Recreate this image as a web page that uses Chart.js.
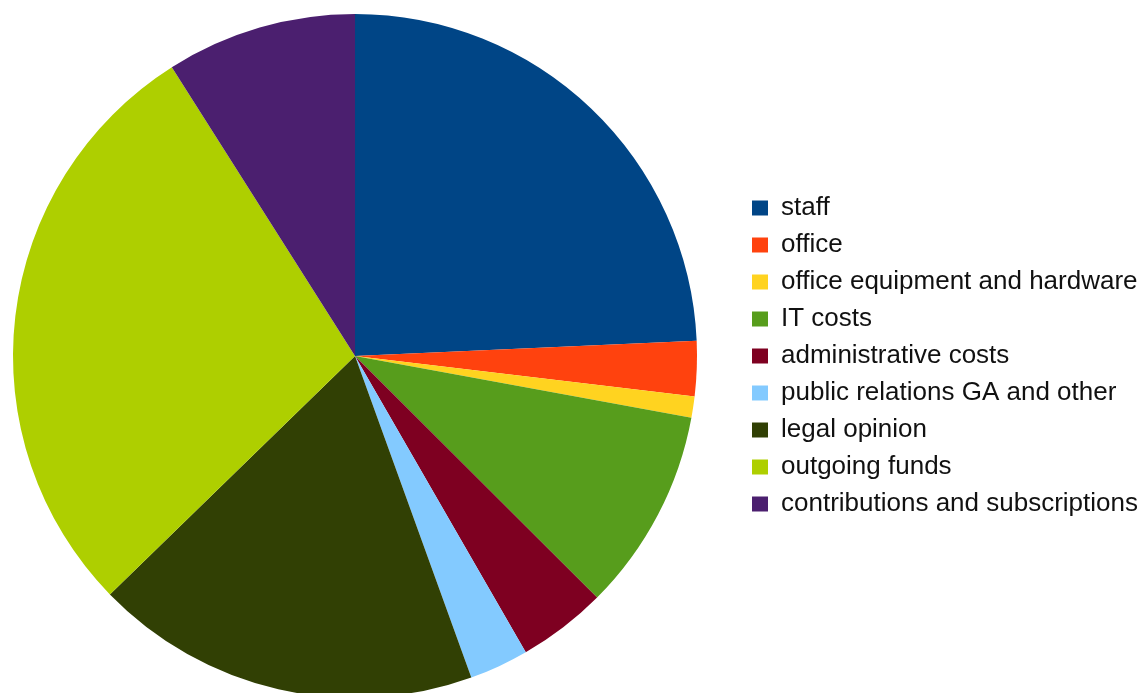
<!DOCTYPE html>
<html>
<head>
<meta charset="utf-8">
<script src="https://cdn.jsdelivr.net/npm/chart.js@4.4.0/dist/chart.umd.min.js"></script>
<style>
    html, body { margin: 0; padding: 0; background: #fff; overflow: hidden; }
    body { width: 1145px; height: 693px; position: relative; }
    /* canvas a bit larger than the page so the pie sits left and touches the bottom, like the original */
    #wrap { width: 1179px; height: 698px; position: absolute; left: -31px; top: 0; }
</style>
</head>
<body>
<div id="wrap"><canvas id="pieChart"></canvas></div>
<script>
/* Budget breakdown : share of each cost item (percent) */
const categories = ["staff", "office", "office equipment and hardware", "IT costs",
    "administrative costs", "public relations GA and other", "legal opinion",
    "outgoing funds", "contributions and subscriptions"];
const shares = [24.3, 2.6, 1.0, 9.6, 4.2, 2.8, 18.25, 28.3, 9.0];
const colors = ["#004586", "#ff420e", "#ffd320", "#579d1c", "#7e0021",
    "#83caff", "#314004", "#aecf00", "#4b1f6f"];

new Chart(document.getElementById("pieChart").getContext('2d'), {
    type: 'pie',
    data: {
        labels: categories,
        datasets: [{
            data: shares,
            backgroundColor: colors,
            borderWidth: 0,
            hoverOffset: 0
        }]
    },
    options: {
        responsive: true,
        maintainAspectRatio: false,
        animation: false,
        layout: {
            padding: { top: 14, bottom: 0, left: 0, right: 0 }
        },
        plugins: {
            tooltip: { enabled: false },
            legend: {
                position: 'right',
                labels: {
                    color: '#111',
                    boxWidth: 16,
                    boxHeight: 15,
                    padding: 11,
                    font: { family: "'Liberation Sans', Arial, sans-serif", size: 26 }
                }
            }
        }
    }
});
</script>
</body>
</html>
